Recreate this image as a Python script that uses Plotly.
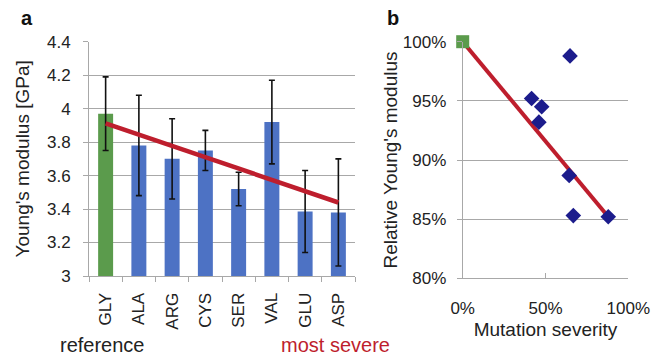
import numpy as np
import plotly.graph_objects as go

W, H = 667, 356

# Panel a data
residues = ["GLY", "ALA", "ARG", "CYS", "SER", "VAL", "GLU", "ASP"]
modulus = [3.97, 3.78, 3.70, 3.75, 3.52, 3.92, 3.385, 3.38]
modulus_err = [0.22, 0.30, 0.24, 0.12, 0.10, 0.25, 0.245, 0.32]
a_yticks = [3.0, 3.2, 3.4, 3.6, 3.8, 4.0, 4.2, 4.4]
a_yticklabels = ["3", "3.2", "3.4", "3.6", "3.8", "4", "4.2", "4.4"]

# Panel b data (mutation severity vs relative modulus), reference GLY first
severity = [0.0, 0.416, 0.46, 0.477, 0.643, 0.648, 0.668, 0.879]
relative = [1.0, 0.952, 0.932, 0.945, 0.887, 0.988, 0.853, 0.852]
b_xticks = [0, 0.5, 1.0]
b_xticklabels = ["0%", "50%", "100%"]
b_yticks = [0.80, 0.85, 0.90, 0.95, 1.00]
b_yticklabels = ["80%", "85%", "90%", "95%", "100%"]

GREEN = "#5b9b4c"
BLUE = "#4d72c4"
RED = "#be1e2d"
NAVY = "#1c1c8c"
GRID = "#a8a8a8"
TXT = "#222222"
FONT = "Liberation Sans, Arial, sans-serif"

def px(x):
    return x / W

def py(y):
    return 1 - y / H

fig = go.Figure()

bar_colors = [GREEN] + [BLUE] * (len(residues) - 1)
fig.add_trace(go.Bar(
    x=residues, y=[m - 3.0 for m in modulus], base=3.0,
    marker=dict(color=bar_colors, line=dict(width=0)),
    error_y=dict(type="data", array=modulus_err, color="#111111", thickness=1.6, width=3),
    xaxis="x", yaxis="y", showlegend=False,
))

# linear trend across residues (from data)
idx = np.arange(len(residues))
slope, intercept = np.polyfit(idx, modulus, 1)
trend = [slope * i + intercept for i in idx]
fig.add_trace(go.Scatter(
    x=residues, y=trend, mode="lines",
    line=dict(color=RED, width=4.5),
    xaxis="x", yaxis="y", showlegend=False,
))

# Panel b: line from reference to most severe
fig.add_trace(go.Scatter(
    x=[severity[0], severity[-1]], y=[relative[0], relative[-1]], mode="lines",
    line=dict(color=RED, width=4), xaxis="x2", yaxis="y2", showlegend=False,
    cliponaxis=False,
))
fig.add_trace(go.Scatter(
    x=severity[1:], y=relative[1:], mode="markers",
    marker=dict(symbol="diamond", size=12, color=NAVY),
    xaxis="x2", yaxis="y2", showlegend=False, cliponaxis=False,
))
fig.add_trace(go.Scatter(
    x=[severity[0]], y=[relative[0]], mode="markers",
    marker=dict(symbol="square", size=13, color=GREEN),
    xaxis="x2", yaxis="y2", showlegend=False, cliponaxis=False,
))

tickfont = dict(family=FONT, size=17, color=TXT)
titlefont = dict(family=FONT, size=19, color=TXT)

def note(text, x, y, size, color):
    return dict(text=text, x=px(x), y=py(y), xref="paper", yref="paper",
                xanchor="center", yanchor="middle", showarrow=False,
                font=dict(family=FONT, size=size, color=color))

fig.update_layout(
    width=W, height=H,
    margin=dict(l=0, r=0, t=0, b=0, autoexpand=False),
    paper_bgcolor="white", plot_bgcolor="white",
    bargap=0.55,
    font=dict(family=FONT, color=TXT),
    xaxis=dict(
        domain=[px(89), px(355)], anchor="y", automargin=False,
        type="category", tickson="boundaries",
        ticks="outside", ticklen=5, tickcolor=GRID, tickwidth=1,
        showline=True, linecolor=GRID, linewidth=1,
        showgrid=False, tickangle=-90, tickfont=tickfont,
        ticklabelstandoff=9,
    ),
    yaxis=dict(
        domain=[py(276), py(41.7)], anchor="x", automargin=False,
        range=[3.0, 4.4], tickvals=a_yticks, ticktext=a_yticklabels,
        ticks="outside", ticklen=5, tickcolor=GRID,
        showline=True, linecolor=GRID, linewidth=1,
        showgrid=True, gridcolor=GRID, gridwidth=1, zeroline=False,
        tickfont=tickfont, ticklabelstandoff=9,
        title=dict(text="Young's modulus [GPa]", font=titlefont, standoff=12),
    ),
    xaxis2=dict(
        domain=[px(462.7), px(628.3)], anchor="y2", automargin=False,
        range=[0, 1.0], tickvals=b_xticks, ticktext=b_xticklabels,
        ticks="inside", ticklen=5, tickcolor=GRID,
        showline=True, linecolor=GRID, linewidth=1,
        showgrid=False, zeroline=False, tickfont=tickfont,
        ticklabelstandoff=14,
        title=dict(text="Mutation severity", font=titlefont, standoff=5),
    ),
    yaxis2=dict(
        domain=[py(278.3), py(41.7)], anchor="x2", automargin=False,
        range=[0.8, 1.0], tickvals=b_yticks, ticktext=b_yticklabels,
        ticks="outside", ticklen=5, tickcolor=GRID,
        showline=True, linecolor=GRID, linewidth=1,
        showgrid=True, gridcolor=GRID, gridwidth=1, zeroline=False,
        tickfont=tickfont, ticklabelstandoff=7,
        title=dict(text="Relative Young's modulus", font=titlefont, standoff=0),
    ),
    annotations=[
        note("<b>a</b>", 27, 18, 20, "#111111"),
        note("<b>b</b>", 393, 18, 20, "#111111"),
        note("reference", 102, 345, 20, TXT),
        note("most severe", 335, 345, 20, RED),
    ],
)

fig.write_html("out.html", config={"displayModeBar": False},
               post_script="document.body.style.margin='0';document.body.style.overflow='hidden';")
